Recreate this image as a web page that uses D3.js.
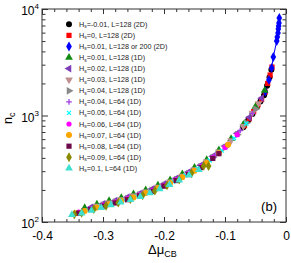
<!DOCTYPE html>
<html>
<head>
<meta charset="utf-8">
<script src="https://cdn.jsdelivr.net/npm/d3@7"></script>
<style>
  html, body { margin: 0; padding: 0; background: #fff; }
  svg text { font-family: "Liberation Sans", Arial, sans-serif; }
</style>
</head>
<body>
<div id="chart"></div>
<script>
// legend labels (text after "Hs=")
const seriesLabels = [
  "-0.01, L=128 (2D)", "0, L=128 (2D)", "0.01, L=128 or 200 (2D)",
  "0.01, L=128 (1D)", "0.02, L=128 (1D)", "0.03, L=128 (1D)", "0.04, L=128 (1D)",
  "0.04, L=64 (1D)", "0.05, L=64 (1D)", "0.06, L=64 (1D)", "0.07, L=64 (1D)",
  "0.08, L=64 (1D)", "0.09, L=64 (1D)", "0.1, L=64 (1D)"
];

// delta mu_CB values per series
const dmu = [
  [-0.07, -0.062, -0.055, -0.048, -0.042, -0.036, -0.031, -0.027, -0.024],
  [-0.068, -0.06, -0.053, -0.046, -0.04, -0.034, -0.03, -0.026, -0.023],
  [-0.034, -0.028, -0.0235, -0.0208, -0.0152, -0.0143, -0.0131, -0.0126, -0.012, -0.0115, -0.011],
  [-0.33, -0.31, -0.29, -0.27, -0.25, -0.23, -0.21, -0.19, -0.17, -0.15, -0.13, -0.11, -0.09, -0.07, -0.05, -0.035],
  [-0.32, -0.30, -0.28, -0.26, -0.24, -0.22, -0.20, -0.18, -0.16, -0.14, -0.12, -0.10, -0.08, -0.06, -0.04],
  [-0.31, -0.29, -0.27, -0.25, -0.23, -0.21, -0.19, -0.17, -0.15, -0.13, -0.11, -0.09, -0.07, -0.055, -0.045],
  [-0.30, -0.28, -0.26, -0.24, -0.22, -0.20, -0.18, -0.16, -0.14, -0.12, -0.10, -0.08, -0.065, -0.05],
  [-0.335, -0.315, -0.295, -0.275, -0.255, -0.235, -0.215, -0.195, -0.175, -0.155, -0.135, -0.115, -0.095, -0.075, -0.055],
  [-0.345, -0.325, -0.305, -0.285, -0.265, -0.245, -0.225, -0.205, -0.185, -0.165, -0.145, -0.125, -0.105, -0.085, -0.065],
  [-0.34, -0.32, -0.30, -0.28, -0.26, -0.24, -0.22, -0.20, -0.18, -0.16, -0.14, -0.12, -0.10, -0.08],
  [-0.345, -0.33, -0.31, -0.29, -0.27, -0.25, -0.23, -0.21, -0.19, -0.17, -0.15, -0.13, -0.11, -0.095],
  [-0.34, -0.32, -0.30, -0.28, -0.26, -0.24, -0.22, -0.20, -0.18, -0.16, -0.14, -0.12, -0.11],
  [-0.347, -0.335, -0.315, -0.295, -0.275, -0.255, -0.235, -0.215, -0.195, -0.175, -0.155, -0.135, -0.127],
  [-0.351, -0.335, -0.319, -0.303, -0.287, -0.271, -0.255, -0.239, -0.223, -0.207, -0.191, -0.175, -0.159, -0.143]
];

// critical nucleus size n_c per series
const nc = [
  [776, 900, 1035, 1197, 1355, 1550, 1905, 2290, 2690],
  [805, 933, 1090, 1260, 1413, 1660, 2000, 2400, 2850],
  [1680, 2160, 2800, 3540, 5010, 5460, 5960, 6490, 6920, 7390, 8230],
  [136, 147, 158, 169, 183, 200, 221, 248, 282, 325, 385, 474, 606, 823, 1217, 1717],
  [137, 148, 159, 171, 185, 204, 228, 257, 294, 341, 415, 516, 681, 961, 1455],
  [141, 152, 163, 176, 192, 213, 239, 271, 312, 370, 456, 583, 792, 1056, 1300],
  [144, 154, 166, 180, 198, 221, 250, 285, 331, 403, 501, 661, 851, 1148],
  [127, 137, 148, 158, 171, 186, 206, 230, 260, 298, 350, 428, 540, 723, 1045],
  [121, 129, 140, 150, 161, 174, 191, 213, 239, 273, 315, 378, 468, 612, 842],
  [124, 133, 144, 154, 166, 180, 198, 221, 250, 285, 331, 403, 501, 661],
  [121, 127, 137, 147, 158, 170, 187, 207, 232, 263, 303, 359, 442, 530],
  [121, 131, 141, 151, 162, 176, 194, 217, 245, 279, 324, 395, 438],
  [118, 122, 132, 142, 152, 164, 178, 197, 221, 250, 287, 336, 335],
  [117, 121, 128, 136, 144, 153, 162, 173, 187, 204, 224, 247, 276, 310]
];

const xTicks = [-0.4, -0.3, -0.2, -0.1, 0];
const yTicks = [100, 1000, 10000];

// marker styles
const colors = ["#000000", "#ff0000", "#0000ff", "#128a12", "#7d3cb8", "#c09090", "#8a8a8a",
  "#a040e0", "#00ffff", "#ff00ff", "#ffa500", "#6e0a4a", "#8a8a00", "#40e0d0"];
const shapes = ["circle", "square", "diamond", "tri", "triL", "triD", "triR",
  "plus", "x", "circleS", "circle", "square", "diamond", "tri"];

const width = 291, height = 263;
const margin = {top: 9, right: 5, bottom: 41, left: 42};

const svg = d3.select("#chart").append("svg")
  .attr("width", width).attr("height", height);

const x = d3.scaleLinear().domain([-0.4, 0]).range([margin.left, width - margin.right]);
const y = d3.scaleLog().domain([100, 10000]).range([height - margin.bottom, margin.top]);

const axisColor = "#333";

function styleAxis(g) {
  g.select(".domain").remove();
  g.selectAll("line").attr("stroke", axisColor);
}

// minor tick values
const xMinor = d3.range(-40, 1, 2).map(d => d / 100).filter(d => !xTicks.some(t => Math.abs(t - d) < 1e-9));
const yMinor = [];
[100, 1000].forEach(b => { for (let k = 2; k <= 9; k++) yMinor.push(b * k); });

const x0 = x.range()[0], x1 = x.range()[1], y0 = y.range()[0], y1 = y.range()[1];

// bottom / top
svg.append("g").attr("transform", `translate(0,${y0})`)
  .call(d3.axisBottom(x).tickValues(xTicks).tickSize(-5).tickFormat(d => d === 0 ? "0" : d.toFixed(1)).tickPadding(9))
  .call(styleAxis)
  .call(g => g.selectAll("text").attr("font-size", 12).attr("fill", "#000")
    .attr("font-family", "Liberation Sans, Arial, sans-serif"));
svg.append("g").attr("transform", `translate(0,${y0})`)
  .call(d3.axisBottom(x).tickValues(xMinor).tickSize(-3).tickFormat(""))
  .call(styleAxis);
svg.append("g").attr("transform", `translate(0,${y1})`)
  .call(d3.axisTop(x).tickValues(xTicks).tickSize(-5).tickFormat(""))
  .call(styleAxis);
svg.append("g").attr("transform", `translate(0,${y1})`)
  .call(d3.axisTop(x).tickValues(xMinor).tickSize(-3).tickFormat(""))
  .call(styleAxis);

// left / right
svg.append("g").attr("transform", `translate(${x0},0)`)
  .call(d3.axisLeft(y).tickValues(yTicks).tickSize(-6).tickFormat(""))
  .call(styleAxis);
svg.append("g").attr("transform", `translate(${x0},0)`)
  .call(d3.axisLeft(y).tickValues(yMinor).tickSize(-3.5).tickFormat(""))
  .call(styleAxis);
svg.append("g").attr("transform", `translate(${x1},0)`)
  .call(d3.axisRight(y).tickValues(yTicks).tickSize(-6).tickFormat(""))
  .call(styleAxis);
svg.append("g").attr("transform", `translate(${x1},0)`)
  .call(d3.axisRight(y).tickValues(yMinor).tickSize(-3.5).tickFormat(""))
  .call(styleAxis);

// y tick labels 10^n
yTicks.forEach(v => {
  const t = svg.append("text")
    .attr("x", x0 - 3).attr("y", y(v) + 6)
    .attr("text-anchor", "end").attr("font-size", 12).attr("fill", "#000");
  t.append("tspan").text("10");
  t.append("tspan").attr("font-size", 8).attr("dy", -6).text(Math.round(Math.log10(v)));
});

// frame
svg.append("rect")
  .attr("x", x0).attr("y", y1).attr("width", x1 - x0).attr("height", y0 - y1)
  .attr("fill", "none").attr("stroke", axisColor).attr("stroke-width", 1);

// axis titles
const xt = svg.append("text").attr("x", 148).attr("y", 254).attr("font-size", 13).attr("fill", "#000");
xt.append("tspan").text("\u0394\u03bc");
xt.append("tspan").attr("font-size", 9).attr("dy", 3).text("CB");

const yt = svg.append("text").attr("transform", "translate(12,124) rotate(-90)")
  .attr("font-size", 12.5).attr("fill", "#000");
yt.append("tspan").text("n");
yt.append("tspan").attr("font-size", 9).attr("dy", 3).text("c");

svg.append("text").attr("x", 277).attr("y", 211).attr("text-anchor", "end")
  .attr("font-size", 13).attr("fill", "#000").text("(b)");

// symbol drawing
const tri = d3.symbol().type(d3.symbolTriangle).size(26)();
function drawMarker(g, shape, color, cx, cy) {
  const sel = g.append("g").attr("transform", `translate(${cx},${cy})`);
  if (shape === "circle") sel.append("circle").attr("r", 3).attr("fill", color);
  else if (shape === "circleS") sel.append("circle").attr("r", 2.6).attr("fill", color);
  else if (shape === "square") sel.append("rect").attr("x", -2.6).attr("y", -2.6).attr("width", 5.2).attr("height", 5.2).attr("fill", color);
  else if (shape === "diamond") sel.append("path").attr("d", d3.symbol().type(d3.symbolDiamond).size(28)()).attr("fill", color);
  else if (shape === "tri") sel.append("path").attr("d", tri).attr("fill", color);
  else if (shape === "triD") sel.append("path").attr("d", tri).attr("transform", "rotate(180)").attr("fill", color);
  else if (shape === "triL") sel.append("path").attr("d", tri).attr("transform", "rotate(-90)").attr("fill", color);
  else if (shape === "triR") sel.append("path").attr("d", tri).attr("transform", "rotate(90)").attr("fill", color);
  else if (shape === "plus") sel.append("path").attr("d", "M-2.8,0H2.8M0,-2.8V2.8").attr("stroke", color).attr("stroke-width", 1.3);
  else if (shape === "x") sel.append("path").attr("d", "M-2,-2L2,2M-2,2L2,-2").attr("stroke", color).attr("stroke-width", 1.2);
}

// blue connecting line
const blueLine = d3.line().x(d => x(d[0])).y(d => y(d[1]));
svg.append("path")
  .attr("d", blueLine(d3.zip(dmu[2], nc[2])))
  .attr("fill", "none").attr("stroke", colors[2]).attr("stroke-width", 1);

const marks = svg.append("g");
seriesLabels.forEach((lab, i) => {
  const pts = d3.zip(dmu[i], nc[i]);
  pts.forEach(p => drawMarker(marks, shapes[i], colors[i], x(p[0]), y(p[1])));
});

// legend
const leg = svg.append("g");
seriesLabels.forEach((lab, i) => {
  const ly = 24.3 + i * 11.08;
  drawMarker(leg, shapes[i], colors[i], 69, ly);
  const t = leg.append("text").attr("x", 79).attr("y", ly + 2.5)
    .attr("font-size", 7.2).attr("fill", "#222");
  t.append("tspan").text("H");
  t.append("tspan").attr("font-size", 5).attr("dy", 1.5).text("s");
  t.append("tspan").attr("dy", -1.5).text("=" + lab);
});
</script>
</body>
</html>
